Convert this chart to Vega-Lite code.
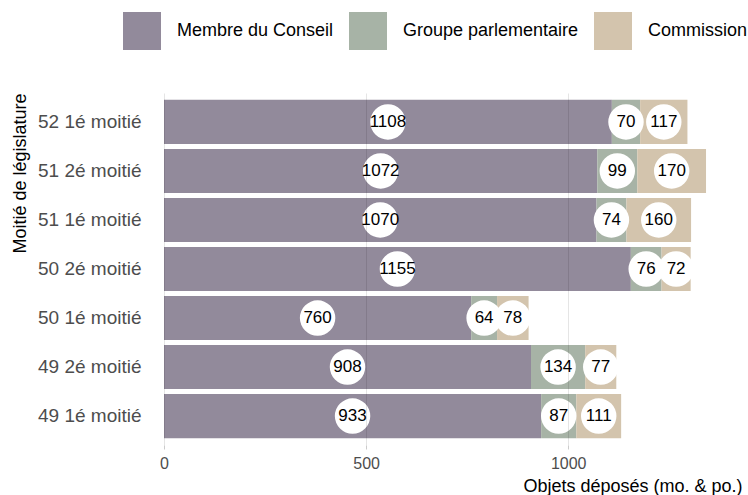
{
  "$schema": "https://vega.github.io/schema/vega-lite/v6.json",
  "width": 578,
  "height": 352,
  "autosize": {"type": "none"},
  "padding": {"left": 164, "top": 93, "right": 6, "bottom": 50},
  "background": "white",
  "config": {
    "font": "Liberation Sans",
    "view": {"stroke": null},
    "axis": {"labelFont": "Liberation Sans", "titleFont": "Liberation Sans", "titleFontWeight": "normal"},
    "legend": {"labelFont": "Liberation Sans"}
  },
  "data": {
    "values": [
      {"moitie": "52 1é moitié", "type": "Membre du Conseil", "n": 1108},
      {"moitie": "52 1é moitié", "type": "Groupe parlementaire", "n": 70},
      {"moitie": "52 1é moitié", "type": "Commission", "n": 117},
      {"moitie": "51 2é moitié", "type": "Membre du Conseil", "n": 1072},
      {"moitie": "51 2é moitié", "type": "Groupe parlementaire", "n": 99},
      {"moitie": "51 2é moitié", "type": "Commission", "n": 170},
      {"moitie": "51 1é moitié", "type": "Membre du Conseil", "n": 1070},
      {"moitie": "51 1é moitié", "type": "Groupe parlementaire", "n": 74},
      {"moitie": "51 1é moitié", "type": "Commission", "n": 160},
      {"moitie": "50 2é moitié", "type": "Membre du Conseil", "n": 1155},
      {"moitie": "50 2é moitié", "type": "Groupe parlementaire", "n": 76},
      {"moitie": "50 2é moitié", "type": "Commission", "n": 72},
      {"moitie": "50 1é moitié", "type": "Membre du Conseil", "n": 760},
      {"moitie": "50 1é moitié", "type": "Groupe parlementaire", "n": 64},
      {"moitie": "50 1é moitié", "type": "Commission", "n": 78},
      {"moitie": "49 2é moitié", "type": "Membre du Conseil", "n": 908},
      {"moitie": "49 2é moitié", "type": "Groupe parlementaire", "n": 134},
      {"moitie": "49 2é moitié", "type": "Commission", "n": 77},
      {"moitie": "49 1é moitié", "type": "Membre du Conseil", "n": 933},
      {"moitie": "49 1é moitié", "type": "Groupe parlementaire", "n": 87},
      {"moitie": "49 1é moitié", "type": "Commission", "n": 111}
    ]
  },
  "transform": [
    {"stack": "n", "groupby": ["moitie"], "sort": [{"field": "type", "order": "descending"}], "as": ["x0", "x1"]},
    {"calculate": "(datum.x0 + datum.x1) / 2", "as": "mid"}
  ],
  "encoding": {
    "y": {
      "field": "moitie",
      "type": "nominal",
      "sort": ["52 1é moitié", "51 2é moitié", "51 1é moitié", "50 2é moitié", "50 1é moitié", "49 2é moitié", "49 1é moitié"],
      "scale": {"paddingInner": 0.1, "paddingOuter": 0.14},
      "axis": {
        "title": "Moitié de législature",
        "titleFontSize": 18,
        "titleColor": "#000000",
        "titleAnchor": "start",
        "titleAlign": "right",
        "titlePadding": 8,
        "labelFontSize": 19,
        "labelColor": "#4d4d4d",
        "labelPadding": 23,
        "ticks": false,
        "domain": false,
        "grid": false
      }
    }
  },
  "layer": [
    {
      "mark": {"type": "bar"},
      "encoding": {
        "x": {
          "field": "x0",
          "type": "quantitative",
          "scale": {"domain": [0, 1430], "nice": false, "zero": true},
          "axis": {
            "title": "Objets déposés (mo. & po.)",
            "titleFontSize": 18,
            "titleColor": "#000000",
            "titleAnchor": "end",
            "titlePadding": 6,
            "values": [0, 500, 1000],
            "format": "d",
            "labelFlush": false,
            "labelFontSize": 16,
            "labelColor": "#4d4d4d",
            "labelPadding": 6,
            "tickColor": "#cccccc",
            "tickSize": 4,
            "domain": false,
            "grid": true,
            "gridColor": "#000000",
            "gridOpacity": 0.1,
            "zindex": 1
          }
        },
        "x2": {"field": "x1"},
        "color": {
          "field": "type",
          "type": "nominal",
          "scale": {
            "domain": ["Membre du Conseil", "Groupe parlementaire", "Commission"],
            "range": ["#928a9b", "#a7b3a6", "#d3c4ad"]
          },
          "legend": {
            "title": null,
            "orient": "none",
            "direction": "horizontal",
            "legendX": -41,
            "legendY": -81,
            "symbolType": "square",
            "symbolSize": 1444,
            "symbolStrokeWidth": 0,
            "symbolOpacity": 1,
            "labelFontSize": 18,
            "labelColor": "#000000",
            "labelOffset": 16,
            "columnPadding": 15,
            "labelLimit": 300
          }
        }
      }
    },
    {
      "mark": {"type": "point", "shape": "circle", "filled": true, "fill": "white", "opacity": 1, "size": 1257, "strokeWidth": 0},
      "encoding": {
        "x": {"field": "mid", "type": "quantitative"}
      }
    },
    {
      "mark": {"type": "text", "fontSize": 17, "color": "#000000", "baseline": "middle", "align": "center"},
      "encoding": {
        "x": {"field": "mid", "type": "quantitative"},
        "text": {"field": "n", "type": "quantitative"}
      }
    }
  ]
}
